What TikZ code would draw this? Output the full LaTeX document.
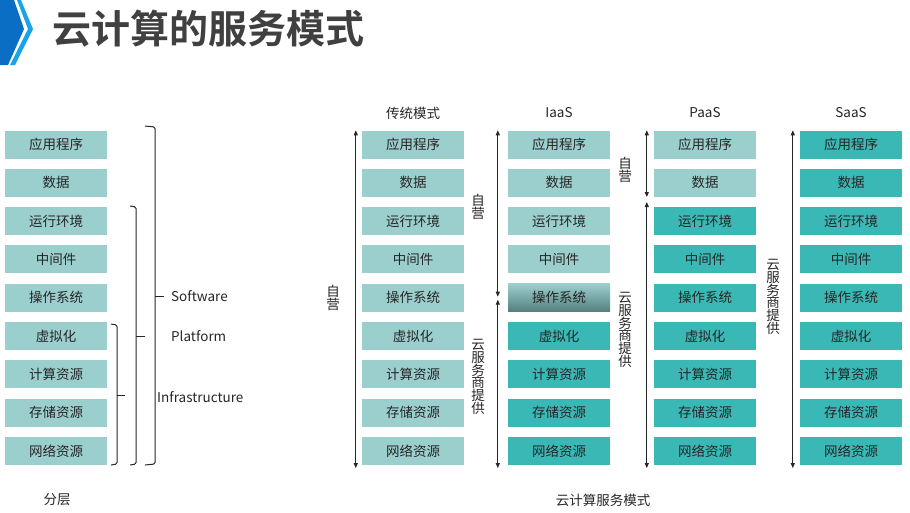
\documentclass[tikz,border=0pt]{standalone}
\usepackage{fontspec}
\setmainfont{Noto Sans CJK SC}[BoldFont={Noto Sans CJK SC Bold}]
\usetikzlibrary{arrows.meta,positioning}
\definecolor{tealLite}{HTML}{9BCFCE}
\definecolor{tealDark}{HTML}{3AB8B6}
\definecolor{tealShade}{HTML}{557F7E}
\definecolor{inkGray}{HTML}{262626}
\definecolor{titleGray}{HTML}{404040}
\definecolor{blueDark}{HTML}{0A6EC4}
\definecolor{blueLite}{HTML}{1AA3E8}

\begin{document}
\begin{tikzpicture}[
  x=1pt, y=-1pt,
  cell/.style={minimum width=102pt, minimum height=28pt, inner sep=0pt, font=\fontsize{13.5}{14}\selectfont, text=inkGray},
  lite/.style={cell, fill=tealLite},
  dark/.style={cell, fill=tealDark},
  mixed/.style={cell, top color=tealLite, bottom color=tealShade},
  span/.style={{Triangle[length=5pt,width=4pt]}-{Triangle[length=5pt,width=4pt]}, line width=0.9pt, draw=inkGray},
  vlab/.style={align=center, font=\fontsize{13.5}{12.8}\selectfont, inner sep=0pt, text=inkGray},
  head/.style={font=\fontsize{13.5}{14}\selectfont, text=inkGray, inner sep=1pt},
  brace/.style={line width=1pt, draw=inkGray, rounded corners=1.5pt},
]
  \useasboundingbox (0,0) rectangle (910,512);

  % Title bar
  \fill[blueDark] (0,0) -- (14,0) -- (24,29) -- (8,65) -- (0,65) -- cycle;
  \fill[blueLite] (17,0) -- (21,0) -- (33,29) -- (15,65) -- (10,65) -- (28,29) -- cycle;
  \node[anchor=west, font=\fontsize{39}{40}\selectfont\bfseries, text=titleGray] (title) at (49,29) {云计算的服务模式};

  % Layers in every column
  \foreach \txt [count=\r] in {应用程序,数据,运行环境,中间件,操作系统,虚拟化,计算资源,存储资源,网络资源}{
    \pgfmathsetmacro\y{144.5+38.3*(\r-1)}
    \node[lite] (l\r) at (56,\y) {\txt};
    \node[lite] (t\r) at (413,\y) {\txt};
    \ifnum\r<5 \node[lite] (i\r) at (559,\y) {\txt};
    \else\ifnum\r=5 \node[mixed] (i\r) at (559,\y) {\txt};
    \else \node[dark] (i\r) at (559,\y) {\txt};
    \fi\fi
    \ifnum\r<3 \node[lite] (p\r) at (705,\y) {\txt};
    \else \node[dark] (p\r) at (705,\y) {\txt};
    \fi
    \node[dark] (s\r) at (851,\y) {\txt};
  }

  % Column heads
  \node[head] (thead) at (413,113) {传统模式};
  \node[head] (ihead) at (559,113) {IaaS};
  \node[head] (phead) at (705,113) {PaaS};
  \node[head] (shead) at (851,113) {SaaS};
  \node[head] (lfoot) at (57,500) {分层};
  \node[head] (cfoot) at (603,500) {云计算服务模式};

  % Brackets on the left
  \draw[brace] (145,126) -- (155,127) -- (155,464) -- (145,465);
  \draw[brace] (155,296) -- (164,296);
  \draw[brace] (130,206) -- (136,207) -- (136,464) -- (130,465);
  \draw[brace] (136,336) -- (145,336);
  \draw[brace] (111,324) -- (117,325) -- (117,464) -- (111,465);
  \draw[brace] (117,395) -- (125,395);
  \node[head, anchor=west] (soft) at (170,296) {Software};
  \node[head, anchor=west] (plat) at (170,336) {Platform};
  \node[head, anchor=west] (infra) at (156,397) {Infrastructure};

  % Who runs what
  \draw[span] ([xshift=-6pt]t1.north west) -- ([xshift=-6pt,yshift=-3pt]t9.south west);
  \draw[span] ([xshift=-10pt]i1.north west) -- ([xshift=-10pt,yshift=1pt]i5.west);
  \draw[span] ([xshift=-10pt,yshift=-2pt]i5.west) -- ([xshift=-10pt,yshift=-3pt]i9.south west);
  \draw[span] ([xshift=-7pt]p1.north west) -- ([xshift=-7pt]p2.south west);
  \draw[span] ([xshift=-7pt,yshift=-5pt]p2.south west) -- ([xshift=-7pt,yshift=-3pt]p9.south west);
  \draw[span] ([xshift=-7pt]s1.north west) -- ([xshift=-7pt,yshift=-3pt]s9.south west);

  \node[vlab] (tself) at (333,298) {自\\营};
  \node[vlab] (iself) at (478,207) {自\\营};
  \node[vlab] (icloud) at (478,377) {云\\服\\务\\商\\提\\供};
  \node[vlab] (pself) at (625,170) {自\\营};
  \node[vlab] (pcloud) at (625,330) {云\\服\\务\\商\\提\\供};
  \node[vlab] (scloud) at (773,297) {云\\服\\务\\商\\提\\供};
\end{tikzpicture}
\end{document}
